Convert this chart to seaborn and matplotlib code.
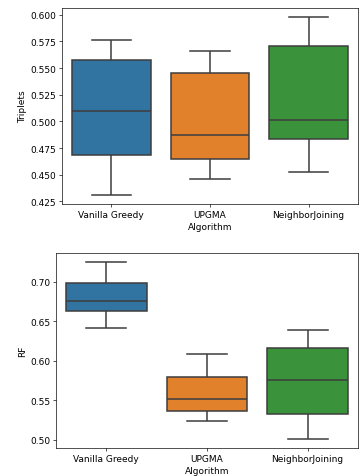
import numpy as np
import pandas as pd
import matplotlib
matplotlib.use("Agg")
import matplotlib.pyplot as plt
import seaborn as sns

algorithms = ["Vanilla Greedy", "UPGMA", "NeighborJoining"]

# five values per algorithm: min, q1, median, q3, max
triplets_vanilla = [0.431, 0.469, 0.510, 0.558, 0.576]
triplets_upgma = [0.446, 0.465, 0.487, 0.545, 0.566]
triplets_nj = [0.453, 0.484, 0.501, 0.571, 0.598]

rf_vanilla = [0.641, 0.663, 0.675, 0.698, 0.725]
rf_upgma = [0.5235, 0.5365, 0.551, 0.579, 0.608]
rf_nj = [0.5008, 0.533, 0.5756, 0.616, 0.639]

df = pd.DataFrame({
    "Algorithm": np.repeat(algorithms, 5),
    "Triplets": triplets_vanilla + triplets_upgma + triplets_nj,
    "RF": rf_vanilla + rf_upgma + rf_nj,
})

scale = 0.6
plt.rcParams.update({
    "font.size": 6.5,
    "axes.linewidth": 0.8 * scale,
    "xtick.major.size": 3.5 * scale,
    "ytick.major.size": 3.5 * scale,
    "xtick.major.width": 0.8 * scale,
    "ytick.major.width": 0.8 * scale,
    "xtick.major.pad": 3.5 * scale,
    "ytick.major.pad": 3.5 * scale,
    "axes.labelpad": 4 * scale,
})

fig = plt.figure(figsize=(3.6, 4.77), dpi=100)
W, H = 360, 477
ax1 = fig.add_axes([62 / W, 1 - 205 / H, 296 / W, 196 / H])
ax2 = fig.add_axes([56 / W, 1 - 449 / H, 302 / W, 195 / H])

for ax, col in [(ax1, "Triplets"), (ax2, "RF")]:
    sns.boxplot(data=df, x="Algorithm", y=col, hue="Algorithm", palette="tab10",
                legend=False, ax=ax, linewidth=1.1)

ax1.set_yticks([0.425, 0.45, 0.475, 0.5, 0.525, 0.55, 0.575, 0.6])
ax1.set_yticklabels([f"{v:.3f}" for v in ax1.get_yticks()])
ax2.set_yticks([0.5, 0.55, 0.6, 0.65, 0.7])
ax2.set_yticklabels([f"{v:.2f}" for v in ax2.get_yticks()])

fig.savefig("out.png", dpi=100)
